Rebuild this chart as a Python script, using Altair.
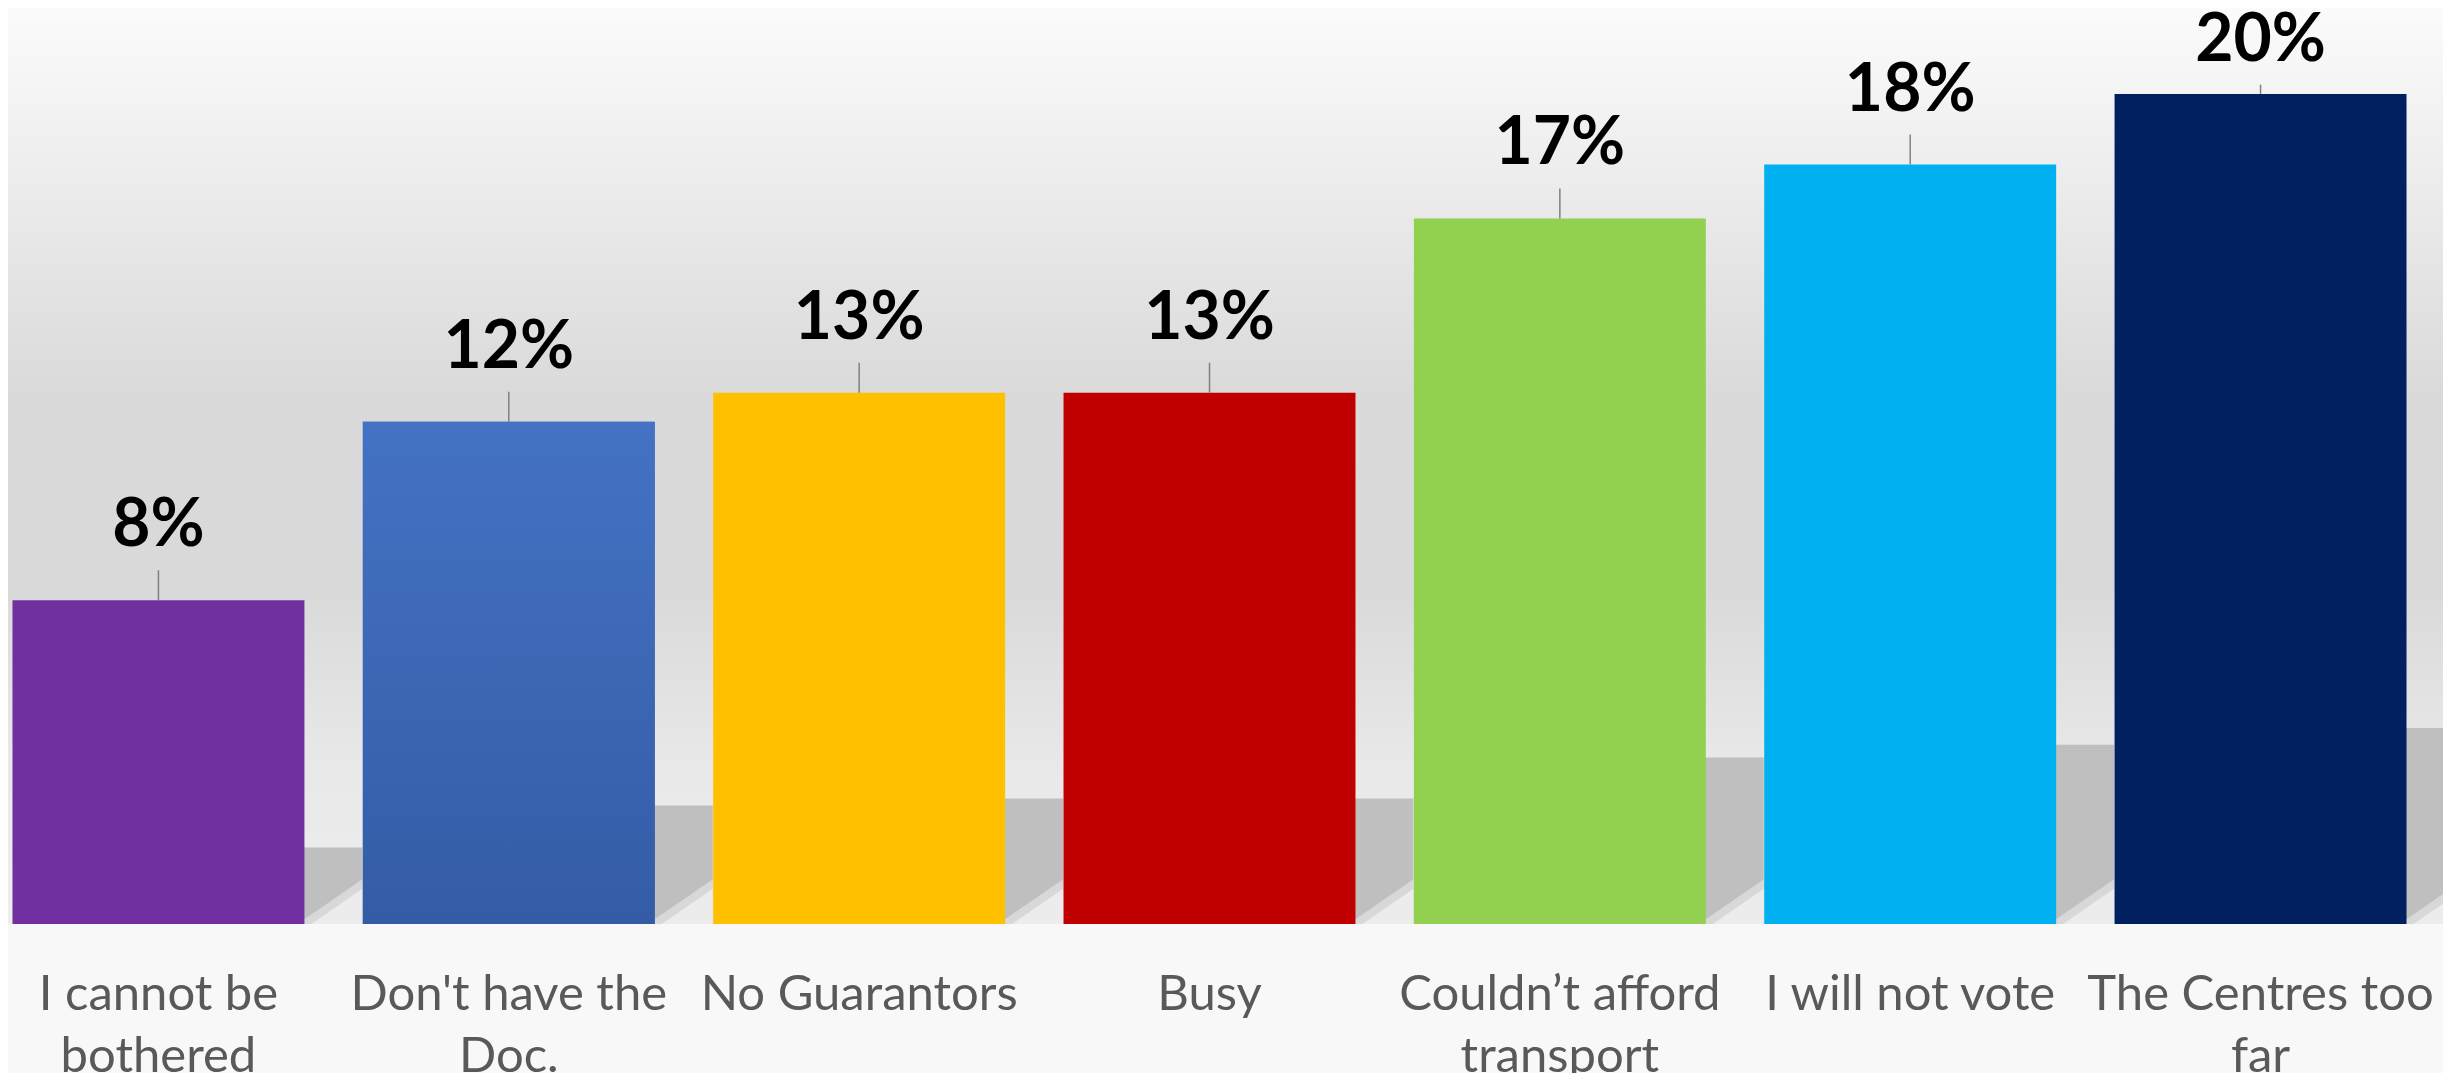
import altair as alt
import pandas as pd

# ---- data ----
categories = [
    "I cannot be\nbothered",
    "Don't have the\nDoc.",
    "No Guarantors",
    "Busy",
    "Couldn\u2019t afford\ntransport",
    "I will not vote",
    "The Centres too\nfar",
]
values = [7.8, 12.1, 12.8, 12.8, 17.0, 18.3, 20.0]
value_labels = ["8%", "12%", "13%", "13%", "17%", "18%", "20%"]
palette = ["#7030A0", "#4472C4", "#FFC000", "#C00000", "#92D050", "#00B0F0", "#002060"]

df = pd.DataFrame({"category": categories, "value": values, "label": value_labels})

W, H = 2403, 916
Y_MAX = 22.07

x_scale = alt.Scale(paddingInner=0.1667, paddingOuter=0.0128)
x_axis = alt.Axis(
    title=None, domain=False, ticks=False, tickSize=0, grid=False,
    labelFontSize=49, labelFont="Lato", labelColor="#595959",
    labelPadding=46, labelBaseline="top", labelLineHeight=62,
    labelLimit=0, labelAngle=0,
    labelExpr="split(datum.value, '\\n')",
)
x_enc = alt.X("category:N", sort=categories, scale=x_scale, axis=x_axis)
x_right = alt.X("category:N", sort=categories, scale=x_scale, axis=x_axis, bandPosition=1)

y_scale = alt.Scale(domain=[0, Y_MAX], nice=False, zero=True)
y_enc = alt.Y("value:Q", scale=y_scale, axis=None)

GRAY = "#bfbfbf"
FLOOR = "#ececec"

# background gradient of the plot area
bg = alt.Chart(pd.DataFrame({"k": [0]})).mark_rect(
    x2Offset=40,
    fill=alt.LinearGradient(
        gradient="linear", x1=0, y1=0, x2=0, y2=1,
        stops=[
            alt.GradientStop(offset=0.0, color="#fbfbfb"),
            alt.GradientStop(offset=0.42, color="#dadada"),
            alt.GradientStop(offset=0.63, color="#d9d9d9"),
            alt.GradientStop(offset=0.82, color="#e8e8e8"),
            alt.GradientStop(offset=1.0, color="#eeeeee"),
        ],
    ),
).encode(x=alt.value(0), x2=alt.value("width"), y=alt.value(0), y2=alt.value("height"))

base = alt.Chart(df).encode(x=x_enc)

# perspective shadow behind each bar (shifted right, 0.236 of bar height)
shadow = base.transform_calculate(shadow="datum.value * 0.236").mark_bar(
    xOffset=58, fill=GRAY
).encode(y=alt.Y("shadow:Q", scale=y_scale, axis=None))

# floor triangles cut the diagonal lower edge of each shadow, starting at
# the bar's bottom-right corner (two steps give a softened edge)
floor_soft = alt.Chart(df).mark_point(
    shape="M-0.12,0 L1,0 L1,-0.773 Z", size=13456, filled=True,
    fill=FLOOR, fillOpacity=0.55, strokeWidth=0, opacity=1,
).encode(x=x_right, y=alt.value("height"))

floor_hard = alt.Chart(df).mark_point(
    shape="M0.12,0 L1,0 L1,-0.607 Z", size=13456, filled=True,
    fill=FLOOR, fillOpacity=1, strokeWidth=0, opacity=1,
).encode(x=x_right, y=alt.value("height"))

bars = base.mark_bar().encode(
    y=y_enc,
    color=alt.Color("category:N", sort=categories,
                    scale=alt.Scale(domain=categories, range=palette), legend=None),
)

bar2 = base.transform_filter(alt.datum.category == categories[1]).mark_bar(
    fill=alt.LinearGradient(
        gradient="linear", x1=0, y1=0, x2=0, y2=1,
        stops=[
            alt.GradientStop(offset=0.0, color="#4472C4"),
            alt.GradientStop(offset=1.0, color="#345CA6"),
        ],
    ),
).encode(y=y_enc)

lab = base.transform_calculate(label_y="min(datum.value + 1.3, 20.8)")

leaders = lab.mark_rule(color="#808080", strokeWidth=1.5, y2Offset=24).encode(
    y=y_enc, y2=alt.Y2("label_y:Q")
)

labels = lab.mark_text(
    font="Lato", fontWeight="bold", fontSize=66, color="#000000",
    baseline="alphabetic",
).encode(y=alt.Y("label_y:Q", scale=y_scale, axis=None), text="label:N")

chart = alt.layer(bg, shadow, floor_soft, floor_hard, bars, bar2, leaders, labels).properties(
    width=W, height=H,
    autosize=alt.AutoSizeParams(type="none"),
    padding={"left": 0, "top": 0, "right": 32, "bottom": 149},
    background="#f8f8f8",
).configure_view(stroke=None)

chart.save("out.html", embed_options={"renderer": "svg", "actions": False})
